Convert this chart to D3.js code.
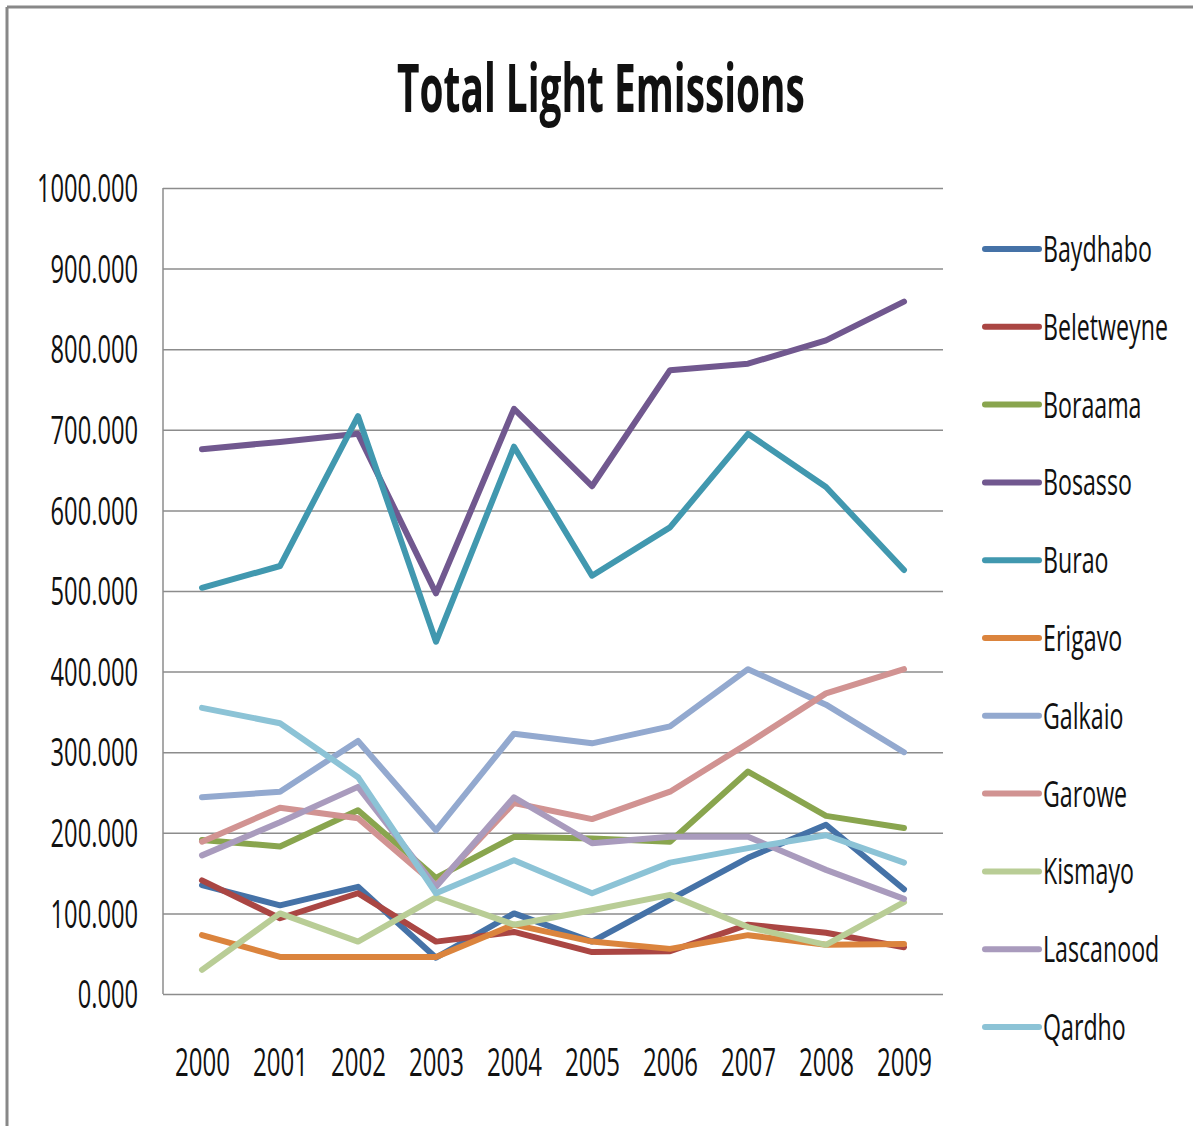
<!DOCTYPE html>
<html>
<head>
<meta charset="utf-8">
<script src="https://cdn.jsdelivr.net/npm/d3@7"></script>
<style>
  body { margin: 0; background: #fff; }
  text { font-family: "Open Sans", "DejaVu Sans", sans-serif; fill: #111; }
  .grid line { stroke: #8c8c8c; stroke-width: 1.5; }
  .series { fill: none; stroke-width: 6; stroke-linejoin: round; stroke-linecap: round; }
</style>
</head>
<body>
<svg id="chart" width="1193" height="1126"></svg>
<script>
const years = ["2000", "2001", "2002", "2003", "2004", "2005", "2006", "2007", "2008", "2009"];
const yTicks = [0, 100, 200, 300, 400, 500, 600, 700, 800, 900, 1000];

const baydhabo   = [135, 110, 133, 45, 100, 65, 117, 169, 210, 130];
const beletweyne = [141, 94, 125, 65, 77, 52, 53, 86, 76, 58];
const boraama    = [191, 183, 228, 144, 195, 193, 189, 276, 221, 206];
const bosasso    = [676, 685, 695, 497, 726, 630, 774, 782, 811, 859];
const burao      = [504, 531, 717, 437, 679, 519, 579, 695, 629, 526];
const erigavo    = [73, 46, 46, 46, 86, 65, 56, 73, 61, 62];
const galkaio    = [244, 251, 314, 203, 323, 311, 332, 403, 359, 300];
const garowe     = [189, 231, 218, 135, 237, 217, 251, 311, 373, 403];
const kismayo    = [30, 100, 65, 120, 86, 104, 123, 83, 61, 114];
const lascanood  = [172, 213, 257, 133, 244, 187, 195, 195, 154, 118];
const qardho     = [355, 336, 269, 125, 166, 125, 163, 181, 197, 163];

const seriesNames = ["Baydhabo", "Beletweyne", "Boraama", "Bosasso", "Burao", "Erigavo",
  "Galkaio", "Garowe", "Kismayo", "Lascanood", "Qardho"];
const seriesValues = [baydhabo, beletweyne, boraama, bosasso, burao, erigavo,
  galkaio, garowe, kismayo, lascanood, qardho];
const seriesColors = ["#4572a7", "#aa4643", "#89a54e", "#71588f", "#4198af", "#db843d",
  "#93a9cf", "#d19392", "#b9cd96", "#a99bbd", "#8cc3d6"];

const svg = d3.select("#chart");
const plot = { left: 163, top: 188, right: 943, bottom: 994 };

const xScale = d3.scalePoint()
  .domain(years)
  .range([plot.left, plot.right])
  .padding(0.5);
const yScale = d3.scaleLinear()
  .domain([0, 1000])
  .range([plot.bottom, plot.top]);

// the original font is a narrow one, so squeeze each text horizontally
// (around its own anchor) so that string `ref` would be `width` px wide
function squeeze(sel, ref, width) {
  let probe = svg.append("text").attr("font-size", sel.attr("font-size"))
    .attr("font-weight", sel.attr("font-weight")).text(ref);
  let factor = width / probe.node().getComputedTextLength();
  probe.remove();
  sel.each(function() {
    let ax = +(this.getAttribute("x") || 0);
    d3.select(this)
      .attr("transform", `translate(${ax},0) scale(${factor},1) translate(${-ax},0)`);
  });
}

// outer frame, only top and left edges show in the picture
svg.append("line").attr("x1", 7).attr("x2", 1193).attr("y1", 7).attr("y2", 7)
  .attr("stroke", "#888").attr("stroke-width", 3);
svg.append("line").attr("x1", 7).attr("x2", 7).attr("y1", 7).attr("y2", 1126)
  .attr("stroke", "#888").attr("stroke-width", 3);

const title = svg.append("text")
  .attr("x", 601)
  .attr("y", 112)
  .attr("text-anchor", "middle")
  .attr("font-size", 66)
  .attr("font-weight", "bold")
  .text("Total Light Emissions");
squeeze(title, "Total Light Emissions", 408);

// horizontal gridlines + y labels
const yAxis = d3.axisLeft(yScale)
  .tickValues(yTicks)
  .tickSize(-(plot.right - plot.left))
  .tickPadding(25)
  .tickFormat(d3.format(".3f"));
const yGroup = svg.append("g")
  .attr("class", "grid")
  .attr("transform", `translate(${plot.left},0)`)
  .call(yAxis);
yGroup.select(".domain").remove();
yGroup.selectAll("text").attr("font-size", 38).attr("dy", "0.36em").attr("fill", "#111");
squeeze(yGroup.selectAll("text"), "1000.000", 101);

// left axis line
svg.append("line")
  .attr("x1", plot.left).attr("x2", plot.left)
  .attr("y1", plot.top).attr("y2", plot.bottom)
  .attr("stroke", "#8c8c8c").attr("stroke-width", 1.5);

const xAxis = d3.axisBottom(xScale).tickSize(0);
const xGroup = svg.append("g")
  .attr("transform", `translate(0,${plot.bottom})`)
  .call(xAxis);
xGroup.select(".domain").remove();
xGroup.selectAll("text")
  .attr("font-size", 38)
  .attr("x", 0)
  .attr("y", 82)
  .attr("dy", 0)
  .attr("fill", "#111");
squeeze(xGroup.selectAll("text"), "2000", 55);

const line = d3.line()
  .x((d, i) => xScale(years[i]))
  .y(d => yScale(d));

svg.append("g")
  .selectAll("path")
  .data(seriesValues)
  .enter()
  .append("path")
  .attr("class", "series")
  .attr("stroke", (d, i) => seriesColors[i])
  .attr("d", line);

// legend
const legendY = d3.scalePoint()
  .domain(seriesNames)
  .range([249, 1027]);
const legend = svg.append("g")
  .selectAll("g")
  .data(seriesNames)
  .enter()
  .append("g")
  .attr("transform", d => `translate(985,${legendY(d)})`);
legend.append("line")
  .attr("x1", 0).attr("x2", 54)
  .attr("stroke", (d, i) => seriesColors[i])
  .attr("stroke-width", 6)
  .attr("stroke-linecap", "round");
const legendText = legend.append("text")
  .attr("x", 58)
  .attr("dy", "0.36em")
  .attr("font-size", 36)
  .text(d => d);
squeeze(legendText, "Beletweyne", 125);
</script>
</body>
</html>
